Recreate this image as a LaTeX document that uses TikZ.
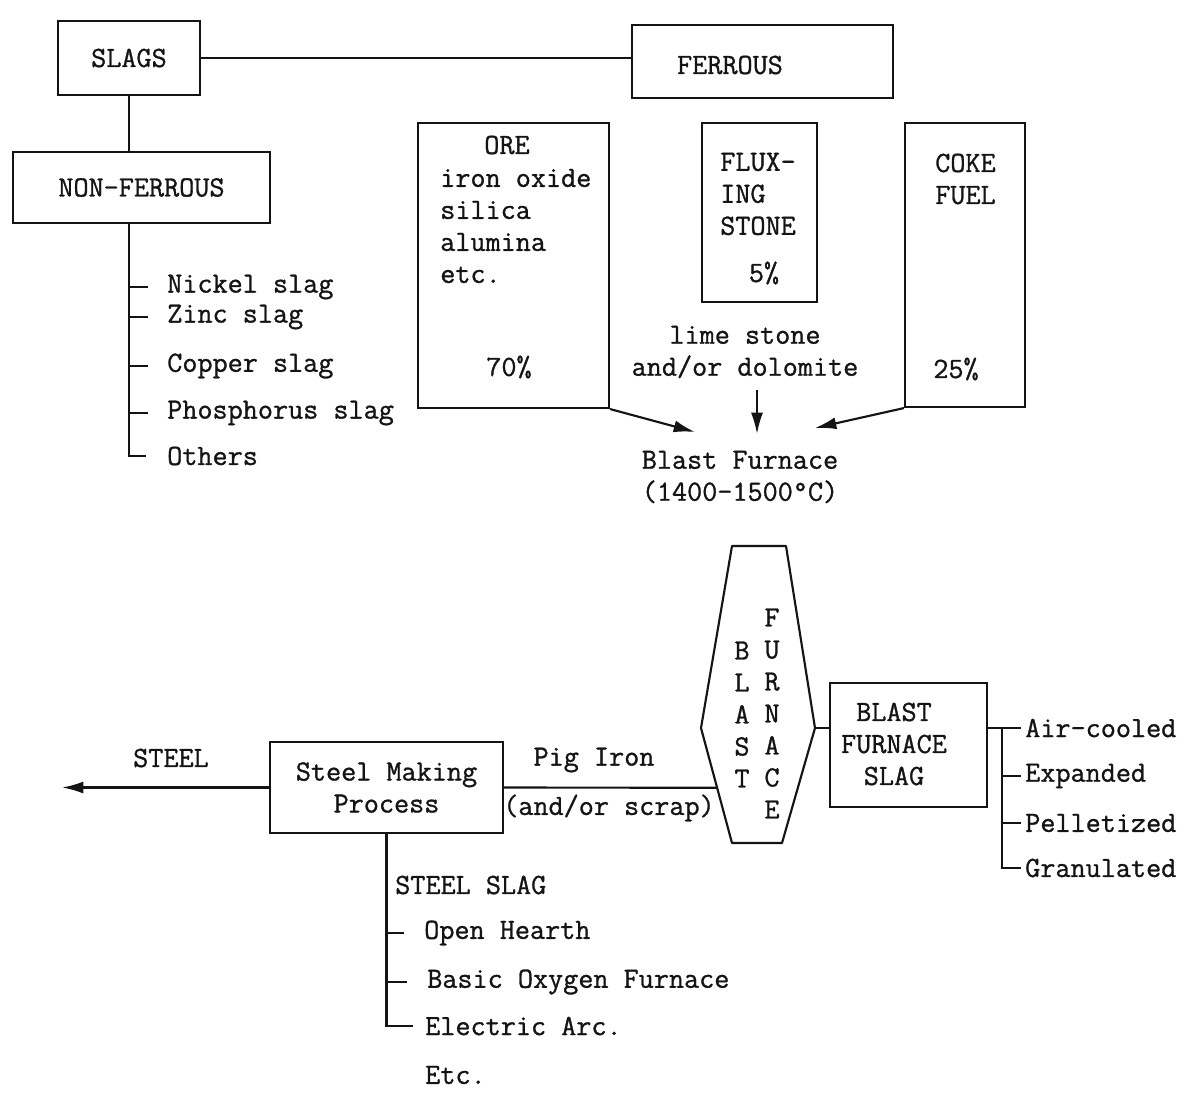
\documentclass[tikz,border=0pt]{standalone}
\usepackage{fontspec}
\newfontfamily\twfont{Latin Modern Mono}[FakeBold=1]
\usetikzlibrary{arrows.meta, positioning, calc}
\definecolor{ink}{HTML}{141414}

\begin{document}
\begin{tikzpicture}[x=0.75pt, y=-0.75pt, >={Latex[length=16pt, width=9pt]},
  every node/.style={font=\twfont\fontsize{22}{24}\selectfont, text=ink},
  box/.style={draw=ink, line width=1.6pt, inner sep=0pt},
  wire/.style={draw=ink, line width=1.6pt},
  item/.style={anchor=west, inner sep=0pt},
  lines/.style={align=left, inner sep=0pt}]

% Background (page is 1193 x 1099, y runs downward)
\useasboundingbox (0,0) rectangle (1193,1099);
\fill[white] (0,0) rectangle (1193,1099);

% Top row: slags / ferrous
\node[box, minimum width=106.5pt, minimum height=55.5pt] (slags) at (129,58) {SLAGS};
\node[box, minimum width=195.75pt, minimum height=54.75pt] (ferrous) at (762.5,61.5) {};
\node[inner sep=0pt] (ferroustext) at (730,65) {FERROUS};
\draw[wire] (slags.east) -- (slags.east -| ferrous.west);

% Non-ferrous branch
\node[box, minimum width=192.75pt, minimum height=53.25pt] (nf) at (141.5,187.5) {NON-FERROUS};
\draw[wire] (slags.south) -- (slags.south |- nf.north);
\coordinate (nft) at (slags.south |- nf.south);

\node[item] (nickel) at (167,287) {Nickel slag};
\node[item] (zinc)   at (167,317) {Zinc slag};
\node[item] (copper) at (167,366) {Copper slag};
\node[item] (phos)   at (167,413) {Phosphorus slag};
\node[item] (others) at (167,456) {Others};

\draw[wire] (nft) |- ([xshift=-16pt]others.west);
\foreach \n in {nickel, zinc, copper, phos}
  \draw[wire] (nft |- \n.west) -- ([xshift=-14pt]\n.west);

% Charge boxes: ore, fluxing stone, coke
\node[box, minimum width=143.25pt, minimum height=213.75pt] (ore) at (513.5,265.5) {};
\node[inner sep=0pt] (oretitle) at (507,145) {ORE};
\node[lines, anchor=west] (orelist) at (440,226) {iron oxide\\silica\\alumina\\etc.};
\node[inner sep=0pt] (orepct) at (509,367) {70\%};

\node[box, minimum width=86.25pt, minimum height=134.25pt] (flux) at (759.5,212.5) {};
\node[lines, anchor=west] (fluxtext) at (720,194) {FLUX-\\ING\\STONE};
\node[inner sep=0pt] (fluxpct) at (764,273) {5\%};

\node[box, minimum width=90pt, minimum height=213pt] (coke) at (965,265) {};
\node[lines, anchor=west] (coketext) at (935,179) {COKE\\FUEL};
\node[inner sep=0pt] (cokepct) at (956,369) {25\%};

\node[align=center, inner sep=0pt] (lime) at (745,352) {lime stone\\and/or dolomite};

% Feed arrows into the blast furnace
\node[align=center, inner sep=0pt] (bftext) at (740,477) {Blast Furnace\\(1400-1500\textdegree C)};
\coordinate (orein)  at (695,432);
\coordinate (fluxin) at (757,434);
\coordinate (cokein) at (815,428);
\draw[wire, ->] (ore.south east) -- (orein);
\draw[wire, ->] ($(lime.south -| fluxin)+(0,12)$) -- (fluxin);
\draw[wire, ->] (coke.south west) -- (cokein);

% Blast furnace outline
\coordinate (htl) at (732,546);
\coordinate (htr) at (786,546);
\coordinate (hr)  at (815,728);
\coordinate (hbr) at (782,843);
\coordinate (hbl) at (732,843);
\coordinate (hl)  at (701,728);
\draw[wire, line join=round] (htl) -- (htr) -- (hr) -- (hbr) -- (hbl) -- (hl) -- cycle;
\node[align=center, inner sep=0pt] (bl) at (742,714.5) {B\\L\\A\\S\\T};
\node[align=center, inner sep=0pt] (fu) at (772,713.5) {F\\U\\R\\N\\A\\C\\E};

% Blast furnace slag
\node[box, minimum width=117.75pt, minimum height=93pt] (bfs) at (908.5,745) {};
\node[align=center, inner sep=0pt] (bfstext) at (894,744) {BLAST\\FURNACE\\SLAG};
\draw[wire] (hr) -- (hr -| bfs.west);

\node[item] (air)  at (1025,728) {Air-cooled};
\node[item] (expd) at (1025,776) {Expanded};
\node[item] (pell) at (1025,823) {Pelletized};
\node[item] (gran) at (1025,868) {Granulated};
\coordinate (bft) at (1002,728);
\draw[wire] (hr -| bfs.east) -- (bft) -- ([xshift=-3pt]air.west);
\draw[wire] (bft) |- ([xshift=-3pt]gran.west);
\foreach \n in {expd, pell}
  \draw[wire] (bft |- \n.west) -- ([xshift=-3pt]\n.west);

% Steel making
\node[box, minimum width=174.75pt, minimum height=68.25pt, align=center] (steel) at (386.5,787.5) {Steel Making\\Process};
\coordinate (hpig) at ($(hl)!0.52!(hbl)$);
\draw[wire] (steel.east) -- (hpig);
\node[inner sep=0pt] (pig) at (594,760) {Pig Iron};
\node[inner sep=0pt] (scrap) at (609,808) {(and/or scrap)};

\coordinate (steelend) at (62,787.5);
\draw[wire, ->] (steel.west) -- (steelend);
\node[inner sep=0pt] (steellbl) at (171,758) {STEEL};

% Steel slag branch
\node[item] (sslag)   at (395,885)  {STEEL SLAG};
\node[item] (hearth)  at (424,933)  {Open Hearth};
\node[item] (bof)     at (427,982)  {Basic Oxygen Furnace};
\node[item] (elec)    at (425,1026) {Electric Arc.};
\node[item] (etc)     at (425,1075) {Etc.};
\draw[wire] (steel.south) |- ([xshift=-9pt]elec.west);
\foreach \n in {hearth, bof}
  \draw[wire] (steel.south |- \n.west) -- ([xshift=-15pt]\n.west);

\end{tikzpicture}
\end{document}
